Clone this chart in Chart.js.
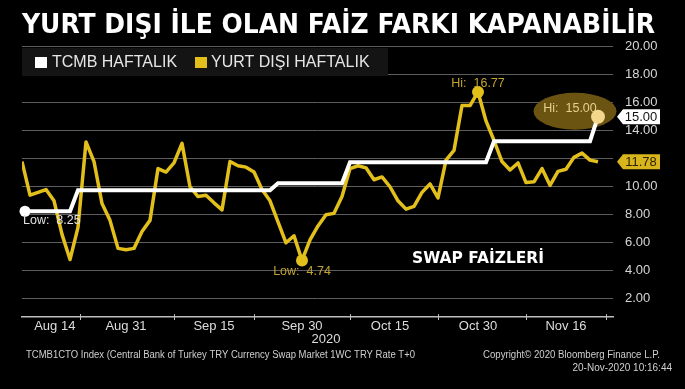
<!DOCTYPE html>
<html>
<head>
<meta charset="utf-8">
<script src="https://cdn.jsdelivr.net/npm/chart.js@4.4.0/dist/chart.umd.min.js"></script>
<style>
  html, body { margin: 0; padding: 0; background: #000; }
  #wrap { width: 685px; height: 389px; }
</style>
</head>
<body>
<div id="wrap"><canvas id="chart" width="685" height="389"></canvas></div>
<script>
// TCMB one week swap rate (white) and offshore rate (yellow), one value per business day
const tcmbHaftalik = [
  8.25, 8.25, 8.25, 8.25, 8.25, 8.25, 8.25,
  9.75, 9.75, 9.75, 9.75, 9.75, 9.75, 9.75, 9.75, 9.75, 9.75, 9.75, 9.75, 9.75,
  9.75, 9.75, 9.75, 9.75, 9.75, 9.75, 9.75, 9.75, 9.75, 9.75, 9.75, 9.75,
  10.25, 10.25, 10.25, 10.25, 10.25, 10.25, 10.25, 10.25, 10.25,
  11.75, 11.75, 11.75, 11.75, 11.75, 11.75, 11.75, 11.75, 11.75, 11.75, 11.75,
  11.75, 11.75, 11.75, 11.75, 11.75, 11.75, 11.75,
  13.25, 13.25, 13.25, 13.25, 13.25, 13.25, 13.25, 13.25, 13.25, 13.25, 13.25, 13.25, 13.25,
  15.00
];
const yurtDisiHaftalik = [
  11.8, 9.4, 9.6, 9.8, 9.0, 6.6, 4.8, 7.1, 13.2, 11.8,
  8.8, 7.6, 5.6, 5.5, 5.6, 6.8, 7.6, 11.3, 11.05, 11.7,
  13.1, 10.0, 9.3, 9.4, 8.85, 8.35, 11.8, 11.5, 11.4, 11.05,
  9.8, 9.0, 7.5, 6.0, 6.5, 4.74, 6.2, 7.2, 8.0, 8.1,
  9.3, 11.3, 11.5, 11.35, 10.5, 10.7, 10.0, 9.0, 8.4, 8.6,
  9.6, 10.2, 9.2, 11.9, 12.6, 15.8, 15.8, 16.77, 14.7, 13.3,
  11.8, 11.2, 11.7, 10.3, 10.35, 11.3, 10.1, 11.1, 11.25, 12.1,
  12.4, 11.9, 11.78
];
const tickLabels = ['Aug 14', 'Aug 31', 'Sep 15', 'Sep 30', 'Oct 15', 'Oct 30', 'Nov 16'];
const tickIndex = [4.1, 13, 24, 35, 46, 57, 68];
const minorTicks = [7.25, 19, 29, 41, 52, 63, 73];
const yTicks = [2, 4, 6, 8, 10, 12, 14, 16, 18, 20];

const WHITE = '#ffffff';
const YELLOW = '#e3bf1c';
const LABEL_FONT = '"Liberation Sans", Arial, sans-serif';

const toPoints = (arr) => arr.map((v, i) => ({ x: i, y: v }));
const lastYellow = yurtDisiHaftalik[yurtDisiHaftalik.length - 1];

// Draws title, legend, notes and value tags around the chart
const overlay = {
  id: 'overlay',
  beforeDatasetsDraw(chart) {
    const { ctx } = chart;
    const xs = chart.scales.x;
    const ys = chart.scales.y;
    const last = tcmbHaftalik.length - 1;
    const px = xs.getPixelForValue(last);
    const py = ys.getPixelForValue(tcmbHaftalik[last]);
    ctx.save();
    ctx.fillStyle = '#6b5312';
    ctx.beginPath();
    ctx.ellipse(px - 23, py - 5.5, 41.5, 18.5, 0, 0, Math.PI * 2);
    ctx.fill();
    ctx.restore();
  },
  afterDatasetsDraw(chart) {
    const { ctx } = chart;
    const xs = chart.scales.x;
    const ys = chart.scales.y;
    ctx.save();

    // title
    ctx.fillStyle = WHITE;
    ctx.font = 'bold 27px "DejaVu Sans", sans-serif';
    ctx.textBaseline = 'alphabetic';
    ctx.textAlign = 'left';
    ctx.fillText('YURT DIŞI İLE OLAN FAİZ FARKI KAPANABİLİR', 22, 33, 633);

    // legend box
    ctx.fillStyle = '#141414';
    ctx.fillRect(22, 48, 366, 28);
    ctx.fillStyle = WHITE;
    ctx.fillRect(35, 57, 12, 11);
    ctx.fillStyle = YELLOW;
    ctx.fillRect(195, 57, 12, 11);
    ctx.fillStyle = '#e6e6e6';
    ctx.font = '16px ' + LABEL_FONT;
    ctx.textBaseline = 'middle';
    ctx.fillText(chart.data.datasets[0].label, 52, 63);
    ctx.fillText(chart.data.datasets[1].label, 211, 63);

    // low of the white line
    const w0x = xs.getPixelForValue(0);
    const w0y = ys.getPixelForValue(tcmbHaftalik[0]);
    ctx.fillStyle = WHITE;
    ctx.beginPath();
    ctx.arc(w0x + 3, w0y, 5.5, 0, Math.PI * 2);
    ctx.fill();
    ctx.fillStyle = '#e0e0e0';
    ctx.font = '12.5px ' + LABEL_FONT;
    ctx.fillText('Low:  ' + tcmbHaftalik[0].toFixed(2), w0x + 1, w0y + 9);

    // low and high of the yellow line
    const lo = Math.min(...yurtDisiHaftalik);
    const hi = Math.max(...yurtDisiHaftalik);
    const loI = yurtDisiHaftalik.indexOf(lo);
    const hiI = yurtDisiHaftalik.indexOf(hi);
    ctx.fillStyle = YELLOW;
    [[loI, lo], [hiI, hi]].forEach(([i, v]) => {
      ctx.beginPath();
      ctx.arc(xs.getPixelForValue(i), ys.getPixelForValue(v), 6, 0, Math.PI * 2);
      ctx.fill();
    });
    ctx.fillStyle = '#c2a330';
    ctx.textAlign = 'center';
    ctx.fillText('Low:  ' + lo.toFixed(2), xs.getPixelForValue(loI), ys.getPixelForValue(lo) + 11);
    ctx.fillText('Hi:  ' + hi.toFixed(2), xs.getPixelForValue(hiI), ys.getPixelForValue(hi) - 8);

    // high of the white line
    const last = tcmbHaftalik.length - 1;
    const lx = xs.getPixelForValue(last);
    const ly = ys.getPixelForValue(tcmbHaftalik[last]);
    ctx.fillStyle = '#e6d08a';
    ctx.fillText('Hi:  ' + tcmbHaftalik[last].toFixed(2), lx - 28, ly - 8);
    ctx.fillStyle = '#f2d78c';
    ctx.beginPath();
    ctx.arc(lx, ly, 7, 0, Math.PI * 2);
    ctx.fill();

    // SWAP FAİZLERİ
    ctx.fillStyle = WHITE;
    ctx.textAlign = 'left';
    ctx.textBaseline = 'alphabetic';
    ctx.font = 'bold 16px "DejaVu Sans", sans-serif';
    ctx.fillText('SWAP FAİZLERİ', 412, 263, 132);

    ctx.restore();
  },
  afterDraw(chart) {
    const { ctx } = chart;
    const xs = chart.scales.x;
    const ys = chart.scales.y;
    ctx.save();

    // last value tags on the right axis
    const tag = (value, bg, fg) => {
      const y = ys.getPixelForValue(value);
      ctx.fillStyle = bg;
      ctx.beginPath();
      ctx.moveTo(617, y);
      ctx.lineTo(623, y - 7.5);
      ctx.lineTo(660, y - 7.5);
      ctx.lineTo(660, y + 7.5);
      ctx.lineTo(623, y + 7.5);
      ctx.closePath();
      ctx.fill();
      ctx.fillStyle = fg;
      ctx.font = '13px ' + LABEL_FONT;
      ctx.textAlign = 'center';
      ctx.textBaseline = 'middle';
      ctx.fillText(value.toFixed(2), 641, y + 0.5);
    };
    tag(tcmbHaftalik[tcmbHaftalik.length - 1], WHITE, '#111');
    tag(lastYellow, '#d9b51c', '#2a2200');

    // small ticks on the time axis
    ctx.strokeStyle = '#bdbdbd';
    ctx.lineWidth = 1;
    minorTicks.forEach((t) => {
      const x = Math.round(xs.getPixelForValue(t)) + 0.5;
      ctx.beginPath();
      ctx.moveTo(x, xs.top - 3);
      ctx.lineTo(x, xs.top + 3);
      ctx.stroke();
    });

    // year and footer
    ctx.fillStyle = '#dddddd';
    ctx.font = '13px ' + LABEL_FONT;
    ctx.textAlign = 'center';
    ctx.textBaseline = 'alphabetic';
    ctx.fillText('2020', 326, 343);

    ctx.fillStyle = '#cfcfcf';
    ctx.font = '10px ' + LABEL_FONT;
    ctx.textAlign = 'left';
    ctx.fillText('TCMB1CTO Index (Central Bank of Turkey TRY Currency Swap Market 1WC TRY Rate T+0', 26, 358, 389);
    ctx.textAlign = 'right';
    ctx.fillText('Copyright© 2020 Bloomberg Finance L.P.', 660, 358, 177);
    ctx.fillText('20-Nov-2020 10:16:44', 672, 371, 101);

    ctx.restore();
  }
};

new Chart(document.getElementById('chart'), {
  type: 'line',
  data: {
    datasets: [
      {
        label: 'TCMB HAFTALIK',
        data: toPoints(tcmbHaftalik),
        borderColor: WHITE,
        borderWidth: 4,
        pointRadius: 0,
        tension: 0,
      },
      {
        label: 'YURT DIŞI HAFTALIK',
        data: toPoints(yurtDisiHaftalik),
        borderColor: YELLOW,
        borderWidth: 3.5,
        pointRadius: 0,
        tension: 0,
        borderJoinStyle: 'round',
      },
    ],
  },
  plugins: [overlay],
  options: {
    responsive: false,
    animation: false,
    layout: { padding: { left: 22, top: 46, right: 0, bottom: 0 } },
    plugins: {
      legend: { display: false },
      tooltip: { enabled: false },
    },
    scales: {
      x: {
        type: 'linear',
        min: 0,
        max: 73.875,
        grid: { display: false, drawTicks: false },
        border: { display: true, color: '#bdbdbd', width: 1.5 },
        afterBuildTicks: (s) => { s.ticks = tickIndex.map((v) => ({ value: v })); },
        afterFit: (s) => { s.height = 72; },
        ticks: {
          padding: 2,
          color: '#dddddd',
          font: { family: LABEL_FONT, size: 13 },
          maxRotation: 0,
          autoSkip: false,
          callback: (value, index) => tickLabels[index],
        },
      },
      y: {
        position: 'right',
        min: 0.7,
        max: 20.05,
        grid: { color: '#5e5e5e', lineWidth: 1, drawTicks: false },
        border: { display: false },
        afterBuildTicks: (s) => { s.ticks = yTicks.map((v) => ({ value: v })); },
        afterFit: (s) => { s.width = 72; },
        ticks: {
          padding: 12,
          color: '#d6d6d6',
          font: { family: LABEL_FONT, size: 13 },
          // the label under the yellow last-value tag is hidden, as in the original
          callback: (value) => (Math.abs(value - lastYellow) < 0.5 ? '' : value.toFixed(2)),
        },
      },
    },
  },
});
</script>
</body>
</html>
